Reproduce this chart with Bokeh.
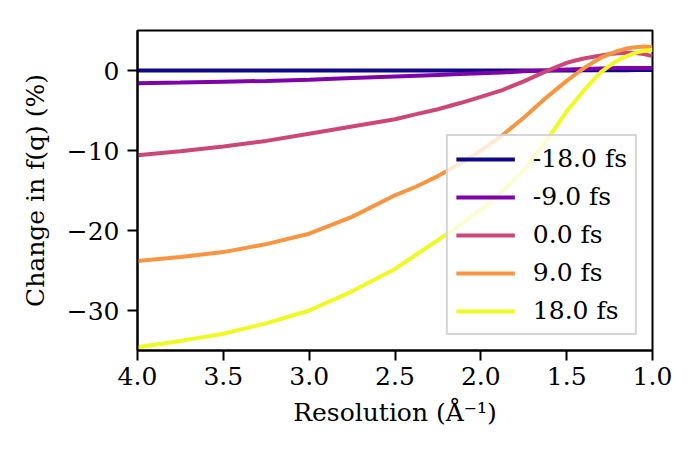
from bokeh.plotting import figure
from bokeh.models import Range1d, FixedTicker, Legend, LegendItem
from bokeh.embed import file_html
from bokeh.resources import INLINE

# resolution (1/Å), plotted reversed from 4.0 to 1.0
resolution = [4.0, 3.75, 3.5, 3.25, 3.0, 2.75, 2.5, 2.375, 2.25, 2.125, 2.0,
              1.875, 1.75, 1.625, 1.5, 1.45, 1.4, 1.35, 1.3, 1.25, 1.2,
              1.15, 1.1, 1.05, 1.0]

# change in f(q) (%) for each delay
change_m18 = [0.0, 0.0, 0.0, 0.0, 0.0, 0.0, 0.0, 0.0, 0.0, 0.0, 0.0,
              0.0, 0.0, 0.0, 0.01, 0.01, 0.02, 0.02, 0.03, 0.03, 0.04,
              0.04, 0.05, 0.05, 0.05]
change_m9 = [-1.58, -1.5, -1.4, -1.3, -1.15, -0.95, -0.75, -0.65, -0.55, -0.45, -0.35,
             -0.25, -0.1, 0.0, 0.12, 0.16, 0.2, 0.23, 0.26, 0.28, 0.3,
             0.31, 0.32, 0.31, 0.3]
change_0 = [-10.6, -10.1, -9.5, -8.8, -7.9, -7.0, -6.1, -5.45, -4.85, -4.1, -3.3,
            -2.45, -1.35, -0.15, 0.95, 1.25, 1.5, 1.7, 1.87, 2.05, 2.17,
            2.22, 2.2, 2.05, 1.8]
change_9 = [-23.8, -23.3, -22.7, -21.7, -20.4, -18.3, -15.6, -14.5, -13.2, -11.7, -10.0,
            -8.1, -5.9, -3.5, -1.3, -0.5, 0.3, 0.95, 1.6, 2.05, 2.45,
            2.75, 2.9, 3.0, 2.9]
change_18 = [-34.6, -33.8, -32.9, -31.6, -30.0, -27.6, -24.8, -23.0, -21.2, -19.4, -17.4,
             -15.1, -12.5, -9.0, -5.1, -3.8, -2.5, -1.3, -0.2, 0.6, 1.3,
             1.8, 2.2, 2.45, 2.6]

series = [change_m18, change_m9, change_0, change_9, change_18]
labels = ["-18.0 fs", "-9.0 fs", "0.0 fs", "9.0 fs", "18.0 fs"]
colors = ["#0d0887", "#7e03a8", "#cc4778", "#f89540", "#f0f921"]

x_ticks = [4.0, 3.5, 3.0, 2.5, 2.0, 1.5, 1.0]
x_tick_labels = ["4.0", "3.5", "3.0", "2.5", "2.0", "1.5", "1.0"]
y_ticks = [-30, -20, -10, 0]
y_tick_labels = ["\u221230", "\u221220", "\u221210", "0"]

FONT = "'DejaVu Serif', serif"
FS = "25px"

p = figure(output_backend="svg", toolbar_location=None,
           frame_width=515, frame_height=320,
           x_range=Range1d(4.0, 1.0), y_range=Range1d(-35, 5))
p.min_border_left = 137
p.min_border_right = 32
p.min_border_top = 30
p.min_border_bottom = 101
p.background_fill_color = "white"
p.border_fill_color = "white"
p.outline_line_color = "black"
p.outline_line_width = 2
p.xgrid.visible = False
p.ygrid.visible = False

items = []
for ys, lab, col in zip(series, labels, colors):
    r = p.line(resolution, ys, line_color=col, line_width=4)
    items.append(LegendItem(label=lab, renderers=[r]))

for ax in (p.xaxis[0], p.yaxis[0]):
    ax.axis_line_width = 2
    ax.major_tick_line_width = 2
    ax.major_tick_out = 10
    ax.major_tick_in = 0
    ax.minor_tick_out = 0
    ax.minor_tick_in = 0
    ax.major_label_text_font = FONT
    ax.major_label_text_font_size = FS
    ax.major_label_text_color = "black"
    ax.axis_label_text_font = FONT
    ax.axis_label_text_font_size = FS
    ax.axis_label_text_font_style = "normal"
    ax.axis_label_text_color = "black"

p.xaxis.ticker = FixedTicker(ticks=x_ticks)
p.xaxis.major_label_overrides = {t: l for t, l in zip(x_ticks, x_tick_labels)}
p.yaxis.ticker = FixedTicker(ticks=y_ticks)
p.yaxis.major_label_overrides = {t: l for t, l in zip(y_ticks, y_tick_labels)}
p.xaxis.axis_label = "Resolution (Å\u207b\u00b9)"
p.yaxis.axis_label = "Change in f(q) (%)"
p.xaxis.major_label_standoff = 6
p.yaxis.major_label_standoff = 8
p.xaxis.axis_label_standoff = 10
p.yaxis.axis_label_standoff = 14

legend = Legend(items=items, location="bottom_right")
legend.margin = 15
legend.padding = 8
legend.spacing = 9
legend.glyph_width = 59
legend.glyph_height = 26
legend.label_height = 26
legend.label_standoff = 18
legend.label_text_font = FONT
legend.label_text_font_size = FS
legend.label_text_color = "black"
legend.background_fill_alpha = 0.8
legend.border_line_color = "#cccccc"
legend.border_line_width = 2
legend.border_line_alpha = 0.8
p.add_layout(legend, "center")

open("out.html", "w").write(file_html(p, INLINE))
